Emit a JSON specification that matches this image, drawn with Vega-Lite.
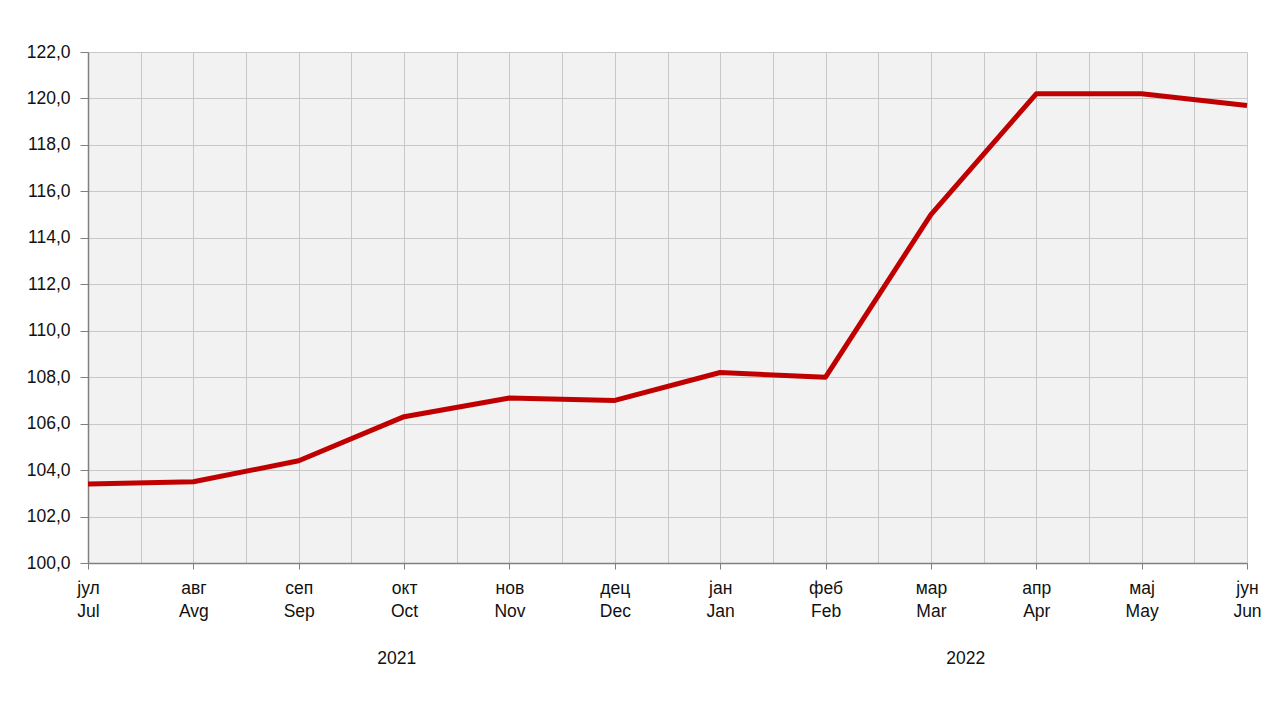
{
  "$schema": "https://vega.github.io/schema/vega-lite/v6.json",
  "width": 1159,
  "height": 511,
  "autosize": {"type": "none"},
  "padding": {"left": 88, "top": 52, "right": 34, "bottom": 154},
  "background": "white",
  "config": {
    "view": {"fill": "#f2f2f2", "stroke": null},
    "axis": {"labelFont": "Liberation Sans", "labelFontSize": 17.5, "labelColor": "#111111", "domainColor": "#808080", "tickColor": "#808080", "gridColor": "#c8c8c8", "gridWidth": 1, "domainWidth": 1.5, "title": null},
    "text": {"font": "Liberation Sans"}
  },
  "datasets": {
    "series": [
      {"i": 0, "month": "јул|Jul", "value": 103.4},
      {"i": 1, "month": "авг|Avg", "value": 103.5},
      {"i": 2, "month": "сеп|Sep", "value": 104.4},
      {"i": 3, "month": "окт|Oct", "value": 106.3},
      {"i": 4, "month": "нов|Nov", "value": 107.1},
      {"i": 5, "month": "дец|Dec", "value": 107.0},
      {"i": 6, "month": "јан|Jan", "value": 108.2},
      {"i": 7, "month": "феб|Feb", "value": 108.0},
      {"i": 8, "month": "мар|Mar", "value": 115.0},
      {"i": 9, "month": "апр|Apr", "value": 120.2},
      {"i": 10, "month": "мај|May", "value": 120.2},
      {"i": 11, "month": "јун|Jun", "value": 119.7}
    ],
    "years": [
      {"pos": 2.93, "year": "2021"},
      {"pos": 8.33, "year": "2022"}
    ]
  },
  "layer": [
    {
      "data": {"name": "series"},
      "mark": {"type": "line", "color": "#c00000", "strokeWidth": 5, "strokeJoin": "round", "clip": false},
      "encoding": {
        "x": {
          "field": "i", "type": "quantitative",
          "scale": {"domain": [0, 11], "nice": false, "zero": false},
          "axis": {
            "values": [0, 0.5, 1, 1.5, 2, 2.5, 3, 3.5, 4, 4.5, 5, 5.5, 6, 6.5, 7, 7.5, 8, 8.5, 9, 9.5, 10, 10.5, 11],
            "grid": true,
            "tickSize": 6,
            "tickOpacity": {"condition": {"test": "datum.value % 1 === 0", "value": 1}, "value": 0},
            "labelPadding": 10,
            "labelLineHeight": 23,
            "labelAlign": "center",
            "labelBaseline": "top",
            "labelOverlap": false,
            "labelFlush": false,
            "labelExpr": "datum.value % 1 ? '' : split(['јул|Jul','авг|Avg','сеп|Sep','окт|Oct','нов|Nov','дец|Dec','јан|Jan','феб|Feb','мар|Mar','апр|Apr','мај|May','јун|Jun'][datum.value], '|')"
          }
        },
        "y": {
          "field": "value", "type": "quantitative",
          "scale": {"domain": [100, 122], "nice": false, "zero": false},
          "axis": {
            "values": [100, 102, 104, 106, 108, 110, 112, 114, 116, 118, 120, 122],
            "grid": true,
            "tickSize": 8,
            "labelPadding": 10,
            "labelExpr": "replace(format(datum.value, '.1f'), '.', ',')"
          }
        }
      }
    },
    {
      "data": {"name": "years"},
      "mark": {"type": "text", "fontSize": 17.5, "color": "#111111", "align": "center", "baseline": "middle", "dy": 96},
      "encoding": {
        "x": {"field": "pos", "type": "quantitative"},
        "y": {"datum": 100},
        "text": {"field": "year"}
      }
    }
  ]
}
